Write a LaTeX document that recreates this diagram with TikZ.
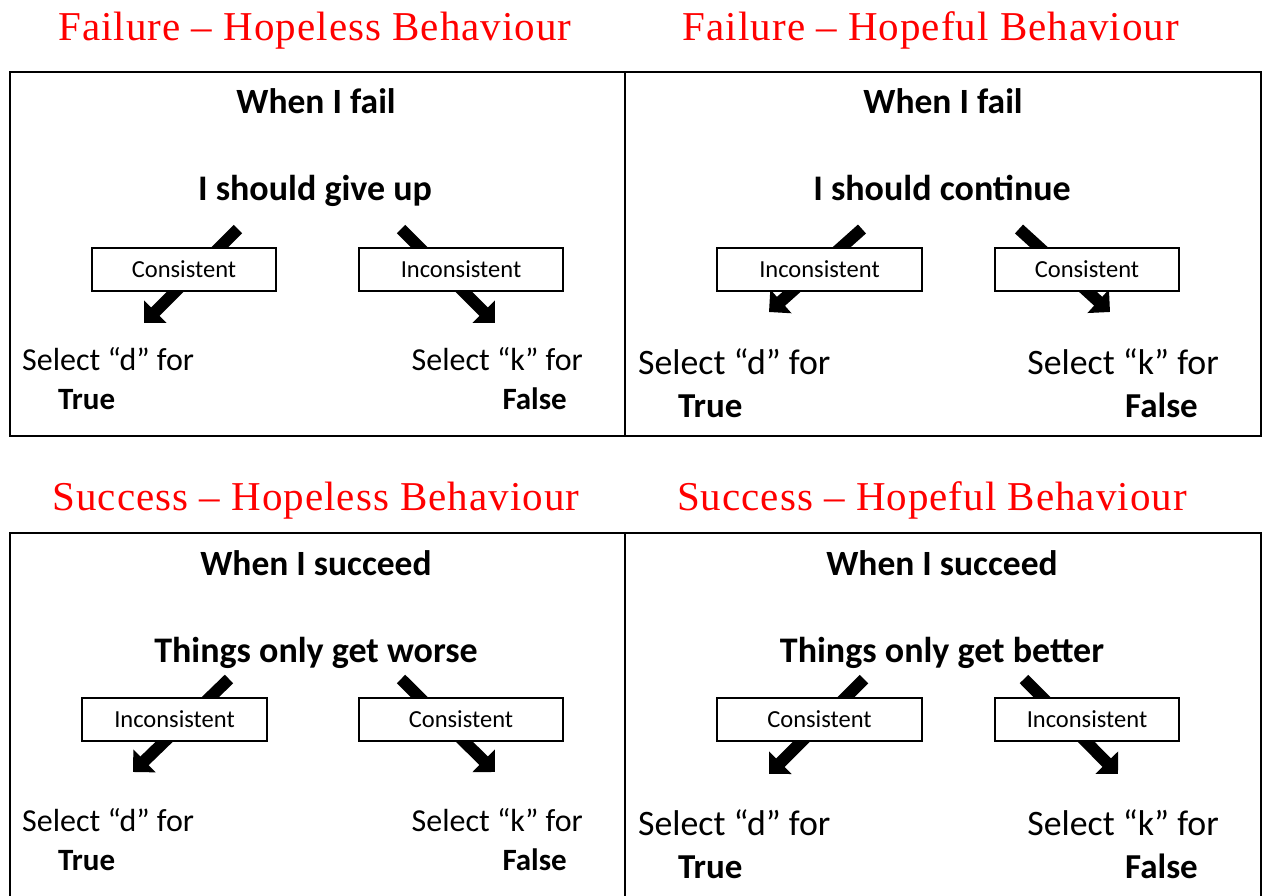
\documentclass[tikz,border=0pt]{standalone}
\usepackage{fontspec}
\setmainfont{Carlito}
\newfontfamily\titlefont[LetterSpace=2.5]{Liberation Serif}
\usetikzlibrary{arrows.meta}
\definecolor{titlered}{RGB}{255,0,0}
\tikzset{
  x=1pt, y=-1pt,
  frame/.style={line width=2.6pt},
  ttl/.style={text=titlered, font=\titlefont\fontsize{41}{45}\selectfont, inner sep=0pt, anchor=base},
  head/.style={font=\bfseries\fontsize{35.5}{39}\selectfont, inner sep=0pt, anchor=base},
  stmt/.style={font=\bfseries\fontsize{36}{40}\selectfont, inner sep=0pt, anchor=base},
  tag/.style={draw, line width=1.1pt, fill=white, minimum width=#1, minimum height=43pt, inner sep=0pt, font=\fontsize{24.5}{27}\selectfont},
  sel/.style={font=\fontsize{32}{36}\selectfont, inner sep=0pt},
  selbig/.style={font=\fontsize{35.8}{40}\selectfont, inner sep=0pt},
  ans/.style={font=\bfseries\fontsize{31}{35}\selectfont, inner sep=0pt},
  ansbig/.style={font=\bfseries\fontsize{35}{39}\selectfont, inner sep=0pt},
  fat/.style={line width=12pt, -{Triangle[width=31pt,length=16pt]}}
}
\begin{document}
\begin{tikzpicture}
\useasboundingbox (0,0) rectangle (1267,895);
% titles
\node[ttl] (t1) at (315,40) {Failure – Hopeless Behaviour};
\node[ttl] (t2) at (931,40) {Failure – Hopeful Behaviour};
\node[ttl] (t3) at (316,510) {Success – Hopeless Behaviour};
\node[ttl] (t4) at (932,510) {Success – Hopeful Behaviour};
% frames
\draw[frame] (10,72) rectangle (1261,436);
\draw[frame] (625,72) -- (625,436);
\draw[frame] (10,900) -- (10,533) -- (1261,533) -- (1261,900);
\draw[frame] (625,533) -- (625,900);

% ---------- panel 1 ----------
\node[head] (h1) at (316,113) {When I fail};
\node[stmt] (s1) at (315,200) {I should give up};
\coordinate (a1s) at (238,229); \coordinate (a1e) at (144,323);
\coordinate (b1s) at (401,229); \coordinate (b1e) at (495,323);
\draw[fat] (a1s) -- (a1e);
\draw[fat] (b1s) -- (b1e);
\node[tag=184pt] (c1) at (184,269.5) {Consistent};
\node[tag=204pt] (i1) at (461,269.5) {Inconsistent};
\node[sel, anchor=base west] (d1) at (22,370) {Select “d” for};
\node[ans, anchor=base west] (tr1) at (58,409) {True};
\node[sel, anchor=base east] (k1) at (583,370) {Select “k” for};
\node[ans, anchor=base east] (f1) at (567,409) {False};

% ---------- panel 2 ----------
\node[head] (h2) at (943,113) {When I fail};
\node[stmt] (s2) at (942,200) {I should continue};
\coordinate (a2s) at (862,229); \coordinate (a2e) at (769,312);
\coordinate (b2s) at (1019,229); \coordinate (b2e) at (1110,312);
\draw[fat] (a2s) -- (a2e);
\draw[fat] (b2s) -- (b2e);
\node[tag=205pt] (i2) at (819.5,269.5) {Inconsistent};
\node[tag=184pt] (c2) at (1087,269.5) {Consistent};
\node[selbig, anchor=base west] (d2) at (638,374) {Select “d” for};
\node[ansbig, anchor=base west] (tr2) at (678,417) {True};
\node[selbig, anchor=base east] (k2) at (1219,374) {Select “k” for};
\node[ansbig, anchor=base east] (f2) at (1198,417) {False};

% ---------- panel 3 ----------
\node[head] (h3) at (316,575) {When I succeed};
\node[stmt] (s3) at (316,662) {Things only get worse};
\coordinate (a3s) at (229,679); \coordinate (a3e) at (133,772);
\coordinate (b3s) at (401,679); \coordinate (b3e) at (495,772);
\draw[fat] (a3s) -- (a3e);
\draw[fat] (b3s) -- (b3e);
\node[tag=185pt] (i3) at (174.5,719.5) {Inconsistent};
\node[tag=204pt] (c3) at (461,719.5) {Consistent};
\node[sel, anchor=base west] (d3) at (22,831) {Select “d” for};
\node[ans, anchor=base west] (tr3) at (58,870) {True};
\node[sel, anchor=base east] (k3) at (583,831) {Select “k” for};
\node[ans, anchor=base east] (f3) at (567,870) {False};

% ---------- panel 4 ----------
\node[head] (h4) at (942,575) {When I succeed};
\node[stmt] (s4) at (942,662) {Things only get better};
\coordinate (a4s) at (864,679); \coordinate (a4e) at (769,774);
\coordinate (b4s) at (1024,679); \coordinate (b4e) at (1118,774);
\draw[fat] (a4s) -- (a4e);
\draw[fat] (b4s) -- (b4e);
\node[tag=205pt] (c4) at (819.5,719.5) {Consistent};
\node[tag=184pt] (i4) at (1087,719.5) {Inconsistent};
\node[selbig, anchor=base west] (d4) at (638,835) {Select “d” for};
\node[ansbig, anchor=base west] (tr4) at (678,878) {True};
\node[selbig, anchor=base east] (k4) at (1219,835) {Select “k” for};
\node[ansbig, anchor=base east] (f4) at (1198,878) {False};
\end{tikzpicture}
\end{document}
